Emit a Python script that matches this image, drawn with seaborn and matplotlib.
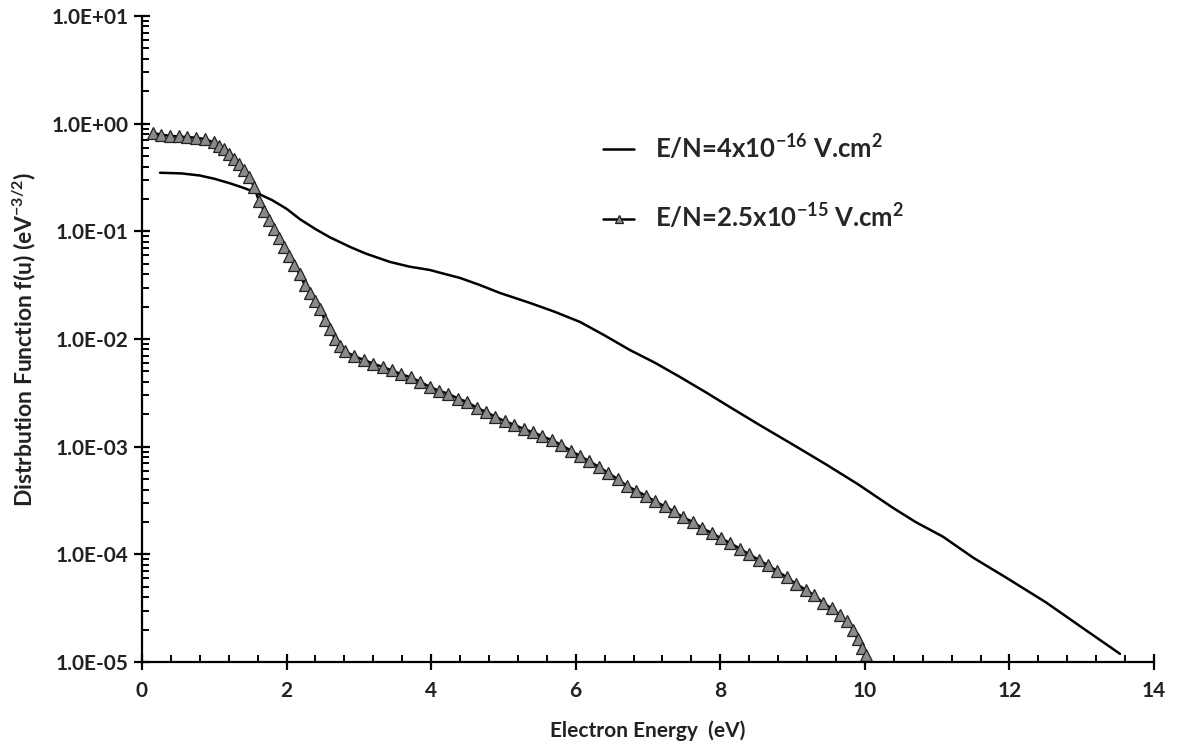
import matplotlib

matplotlib.use("Agg")

import matplotlib.pyplot as plt
import matplotlib.ticker as mticker
import numpy as np
import seaborn as sns

# E/N = 4x10^-16 V.cm2 (solid line)
energy_low = [0.25, 0.55, 0.80, 1.00, 1.22, 1.40, 1.56, 1.80, 2.00, 2.19, 2.40, 2.60,
              2.88, 3.10, 3.43, 3.70, 3.98, 4.20, 4.40, 4.67, 4.95, 5.37, 5.70, 6.06,
              6.40, 6.75, 7.10, 7.44, 7.80, 8.13, 8.55, 9.00, 9.47, 9.90, 10.39, 10.70,
              11.08, 11.50, 11.96, 12.50, 13.00, 13.53]
f_low = [0.350, 0.345, 0.330, 0.308, 0.279, 0.254, 0.232, 0.195, 0.162, 0.129, 0.105, 0.088,
         0.0716, 0.062, 0.052, 0.047, 0.0438, 0.040, 0.0369, 0.0318, 0.0268, 0.0216, 0.0180, 0.0144,
         0.0108, 0.0079, 0.0060, 0.00445, 0.0032, 0.00234, 0.00158, 0.00105, 6.8e-4, 4.5e-4, 2.7e-4, 2.0e-4,
         1.46e-4, 9.3e-5, 6.05e-5, 3.6e-5, 2.1e-5, 1.19e-5]

# E/N = 2.5x10^-15 V.cm2 (triangles)
energy_high = [0.15, 0.27, 0.39, 0.51, 0.63, 0.75, 0.87, 0.99, 1.06, 1.13, 1.20, 1.27,
               1.34, 1.41, 1.48, 1.55, 1.62, 1.69, 1.76, 1.83, 1.90, 1.97, 2.04, 2.11,
               2.18, 2.25, 2.32, 2.39, 2.46, 2.53, 2.60, 2.67, 2.74, 2.81, 2.94, 3.07,
               3.20, 3.33, 3.46, 3.59, 3.72, 3.85, 3.98, 4.11, 4.24, 4.37, 4.50, 4.63,
               4.76, 4.89, 5.02, 5.15, 5.28, 5.41, 5.54, 5.67, 5.80, 5.93, 6.06, 6.19,
               6.32, 6.45, 6.58, 6.71, 6.84, 6.97, 7.10, 7.23, 7.36, 7.49, 7.62, 7.75,
               7.88, 8.01, 8.14, 8.27, 8.40, 8.53, 8.66, 8.79, 8.92, 9.05, 9.18, 9.30,
               9.42, 9.54, 9.65, 9.75, 9.84, 9.90, 9.96, 10.02]
f_high = [0.82, 0.79, 0.77, 0.76, 0.75, 0.74, 0.72, 0.67, 0.62, 0.58, 0.52, 0.47,
          0.42, 0.37, 0.32, 0.26, 0.19, 0.155, 0.128, 0.106, 0.086, 0.071, 0.059, 0.049,
          0.040, 0.032, 0.027, 0.0225, 0.0190, 0.0150, 0.0124, 0.0100, 0.0086, 0.0077, 0.0069, 0.0064,
          0.0059, 0.0055, 0.0051, 0.0047, 0.0044, 0.0040, 0.0036, 0.0033, 0.0031, 0.0028, 0.0026, 0.0023,
          0.0021, 0.0019, 0.00172, 0.00160, 0.00146, 0.00136, 0.00125, 0.00115, 0.00104, 0.00092, 0.00082, 0.00073,
          0.00065, 0.00057, 0.00050, 0.00043, 0.00039, 0.00035, 0.00031, 0.00028, 0.00025, 0.00022, 0.00020, 0.000175,
          0.000158, 0.000141, 0.000127, 0.000113, 0.000100, 8.9e-5, 7.9e-5, 7.0e-5, 6.1e-5, 5.3e-5, 4.7e-5, 4.15e-5,
          3.55e-5, 3.15e-5, 2.75e-5, 2.4e-5, 2.0e-5, 1.62e-5, 1.35e-5, 1.17e-5]

x_ticks = [0, 2, 4, 6, 8, 10, 12, 14]
y_ticks = [1e-5, 1e-4, 1e-3, 1e-2, 1e-1, 1e0, 1e1]
y_tick_labels = ["1.0E-05", "1.0E-04", "1.0E-03", "1.0E-02", "1.0E-01", "1.0E+00", "1.0E+01"]

label_low = r"E/N=4x10$^{-16}$ V.cm$^{2}$"
label_high = r"E/N=2.5x10$^{-15}$ V.cm$^{2}$"

sns.set_theme(style="ticks")
plt.rcParams["font.family"] = ["Lato", "DejaVu Sans"]
plt.rcParams["font.weight"] = "bold"
plt.rcParams["mathtext.fontset"] = "custom"
plt.rcParams["mathtext.rm"] = "Lato:bold"
plt.rcParams["mathtext.it"] = "Lato:bold"
plt.rcParams["mathtext.bf"] = "Lato:bold"
plt.rcParams["mathtext.default"] = "rm"

fig = plt.figure(figsize=(11.79, 7.44), dpi=100)
ax = fig.add_axes([0.1204, 0.1102, 0.8584, 0.8683])

sns.lineplot(x=energy_low, y=f_low, ax=ax, color="black", linewidth=1.8, label=label_low)
sns.lineplot(x=energy_high, y=f_high, ax=ax, color="black", linewidth=1.8,
             marker="^", markersize=8, markerfacecolor="#8a8a8a",
             markeredgecolor="#222222", markeredgewidth=0.9, label=label_high)

ax.set_yscale("log")
ax.set_xlim(0, 14)
ax.set_xticks(x_ticks)
ax.set_xticklabels([str(v) for v in x_ticks])
ax.xaxis.set_minor_locator(mticker.FixedLocator(
    [v for v in np.arange(0.4, 14, 0.4) if abs(v / 2 - round(v / 2)) > 1e-6]))
ax.set_yticks(y_ticks)
ax.set_yticklabels(y_tick_labels)
minor_y = [m * 10.0 ** d for d in range(-5, 1) for m in range(2, 10)]
ax.yaxis.set_minor_locator(mticker.FixedLocator(minor_y))
ax.yaxis.set_minor_formatter(mticker.NullFormatter())
ax.set_ylim(1e-5, 10)

for side in ["top", "right"]:
    ax.spines[side].set_visible(False)
for side in ["left", "bottom"]:
    ax.spines[side].set_color("black")
    ax.spines[side].set_linewidth(1.6)

ax.tick_params(axis="both", which="major", direction="inout", length=11, width=1.6,
               color="black", labelsize=15, labelcolor="#222222", bottom=True, left=True)
ax.tick_params(axis="both", which="minor", direction="in", length=5, width=1.4,
               color="black", bottom=True, left=True)
ax.tick_params(axis="x", which="major", pad=8)
ax.tick_params(axis="y", which="major", pad=4)
for lab in ax.get_xticklabels() + ax.get_yticklabels():
    lab.set_fontweight("bold")

ax.set_xlabel("Electron Energy  (eV)", fontsize=15, fontweight="bold", color="#222222", labelpad=14)
ax.set_ylabel(r"Distrbution Function f(u) (eV$^{-3/2}$)", fontsize=16.5, fontweight="bold",
              color="#222222", labelpad=10)
ax.grid(False)

ax.legend(loc="upper left", bbox_to_anchor=(0.433, 0.855), frameon=False,
          labelspacing=1.55, handlelength=1.2, handletextpad=0.8, markerscale=0.8,
          prop={"weight": "bold", "size": 18.5})

fig.savefig("out.png", dpi=100, facecolor="white")
